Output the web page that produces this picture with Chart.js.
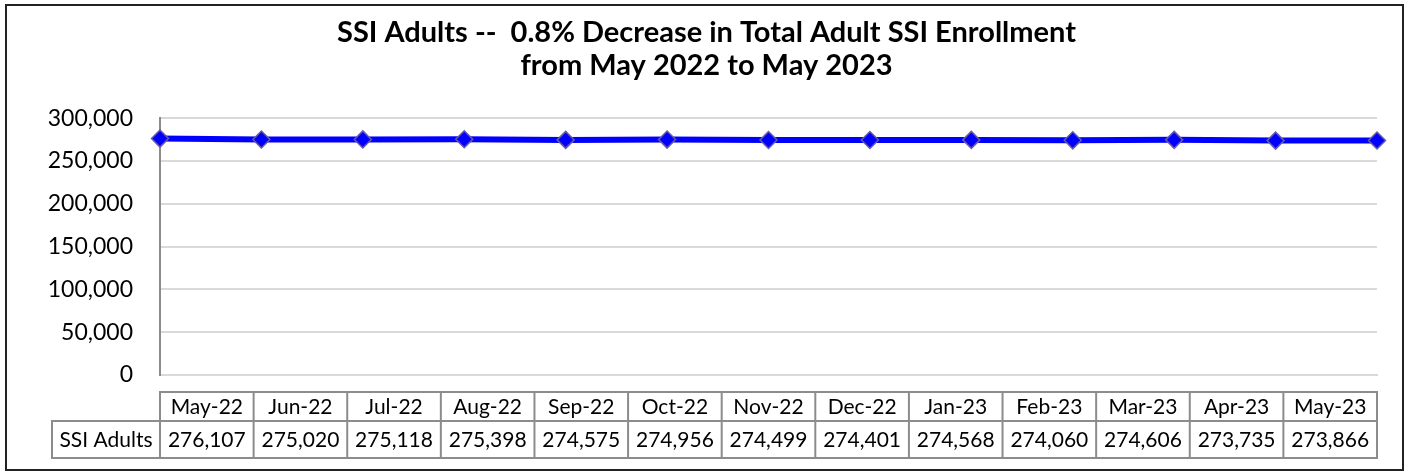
<!DOCTYPE html>
<html>
<head>
<meta charset="utf-8">
<script src="https://cdn.jsdelivr.net/npm/chart.js@4.4.1/dist/chart.umd.min.js"></script>
<style>
  html, body { margin: 0; padding: 0; background: #fff; }
  #wrap { width: 1407px; height: 476px; position: relative; }
</style>
</head>
<body>
<div id="wrap"><canvas id="ssiChart" width="1407" height="476"></canvas></div>
<script>
const months = ["May-22", "Jun-22", "Jul-22", "Aug-22", "Sep-22", "Oct-22", "Nov-22",
    "Dec-22", "Jan-23", "Feb-23", "Mar-23", "Apr-23", "May-23"];
const ssiAdults = [276107, 275020, 275118, 275398, 274575, 274956, 274499,
    274401, 274568, 274060, 274606, 273735, 273866];
const seriesName = "SSI Adults";
const titleLines = ["SSI Adults --  0.8% Decrease in Total Adult SSI Enrollment", "from May 2022 to May 2023"];
const yTicks = [0, 50000, 100000, 150000, 200000, 250000, 300000];

const FONT = "Lato, 'Open Sans', sans-serif";

// frame round the whole chart
const framePlugin = {
    id: "frame",
    beforeDraw(chart) {
        const ctx = chart.ctx;
        ctx.save();
        ctx.fillStyle = "#fff";
        ctx.fillRect(0, 0, chart.width, chart.height);
        ctx.strokeStyle = "#222";
        ctx.lineWidth = 2;
        ctx.strokeRect(6, 5, 1397, 465);
        ctx.restore();
    }
};

// data table under the plot, like the Excel one
const dataTablePlugin = {
    id: "dataTable",
    afterDraw(chart) {
        const ctx = chart.ctx;
        const area = chart.chartArea;
        const colW = (area.right - area.left) / months.length;
        const top = 392, mid = 421, bottom = 458, labelLeft = 52;
        ctx.save();
        ctx.strokeStyle = "#8c8c8c";
        ctx.lineWidth = 2;
        // header row
        ctx.strokeRect(area.left, top, area.right - area.left, mid - top);
        // value row incl. series label
        ctx.strokeRect(labelLeft, mid, area.right - labelLeft, bottom - mid);
        ctx.beginPath();
        ctx.moveTo(area.left, mid);
        ctx.lineTo(area.left, bottom);
        for (let i = 1; i < months.length; i++) {
            const x = area.left + colW * i;
            ctx.moveTo(x, top);
            ctx.lineTo(x, bottom);
        }
        ctx.stroke();

        ctx.fillStyle = "#000";
        ctx.font = "21px " + FONT;
        ctx.textAlign = "center";
        ctx.textBaseline = "middle";
        months.forEach((m, i) => {
            const cx = area.left + colW * (i + 0.5);
            ctx.fillText(m, cx, (top + mid) / 2 + 1);
            ctx.fillText(ssiAdults[i].toLocaleString("en-US"), cx, (mid + bottom) / 2 + 1);
        });
        ctx.fillText(seriesName, (labelLeft + area.left) / 2, (mid + bottom) / 2 + 1);
        ctx.restore();
    }
};

new Chart(document.getElementById("ssiChart"), {
    type: "line",
    data: {
        labels: months,
        datasets: [{
            label: seriesName,
            data: ssiAdults,
            borderColor: "#0000ff",
            backgroundColor: "#0000ff",
            borderWidth: 6,
            pointStyle: "rectRot",
            pointRadius: 8.5,
            pointBackgroundColor: "#0000ff",
            pointBorderColor: "#6a5aa8",
            pointBorderWidth: 1.5,
            tension: 0
        }]
    },
    options: {
        responsive: false,
        animation: false,
        layout: {
            padding: { left: 36, right: 30, top: 0, bottom: 93 }
        },
        plugins: {
            legend: { display: false },
            tooltip: { enabled: false },
            title: {
                display: true,
                text: titleLines,
                color: "#000",
                font: { family: FONT, size: 29, weight: "bold", lineHeight: 1.14 },
                padding: { top: 16, bottom: 36 }
            }
        },
        scales: {
            x: {
                offset: false,
                ticks: { display: false },
                grid: { display: false },
                border: { display: true, color: "#d9d9d9", width: 2 }
            },
            y: {
                min: 0,
                max: 300000,
                afterBuildTicks(scale) {
                    scale.ticks = yTicks.map(v => ({ value: v }));
                },
                afterFit(scale) {
                    scale.width = 124;
                },
                ticks: {
                    color: "#000",
                    padding: 27,
                    font: { family: FONT, size: 23 },
                    callback: v => v.toLocaleString("en-US")
                },
                grid: { color: "#d9d9d9", lineWidth: 2, drawTicks: false },
                border: { display: true, color: "#8c8c8c", width: 2 }
            }
        }
    },
    plugins: [framePlugin, dataTablePlugin]
});
</script>
</body>
</html>
